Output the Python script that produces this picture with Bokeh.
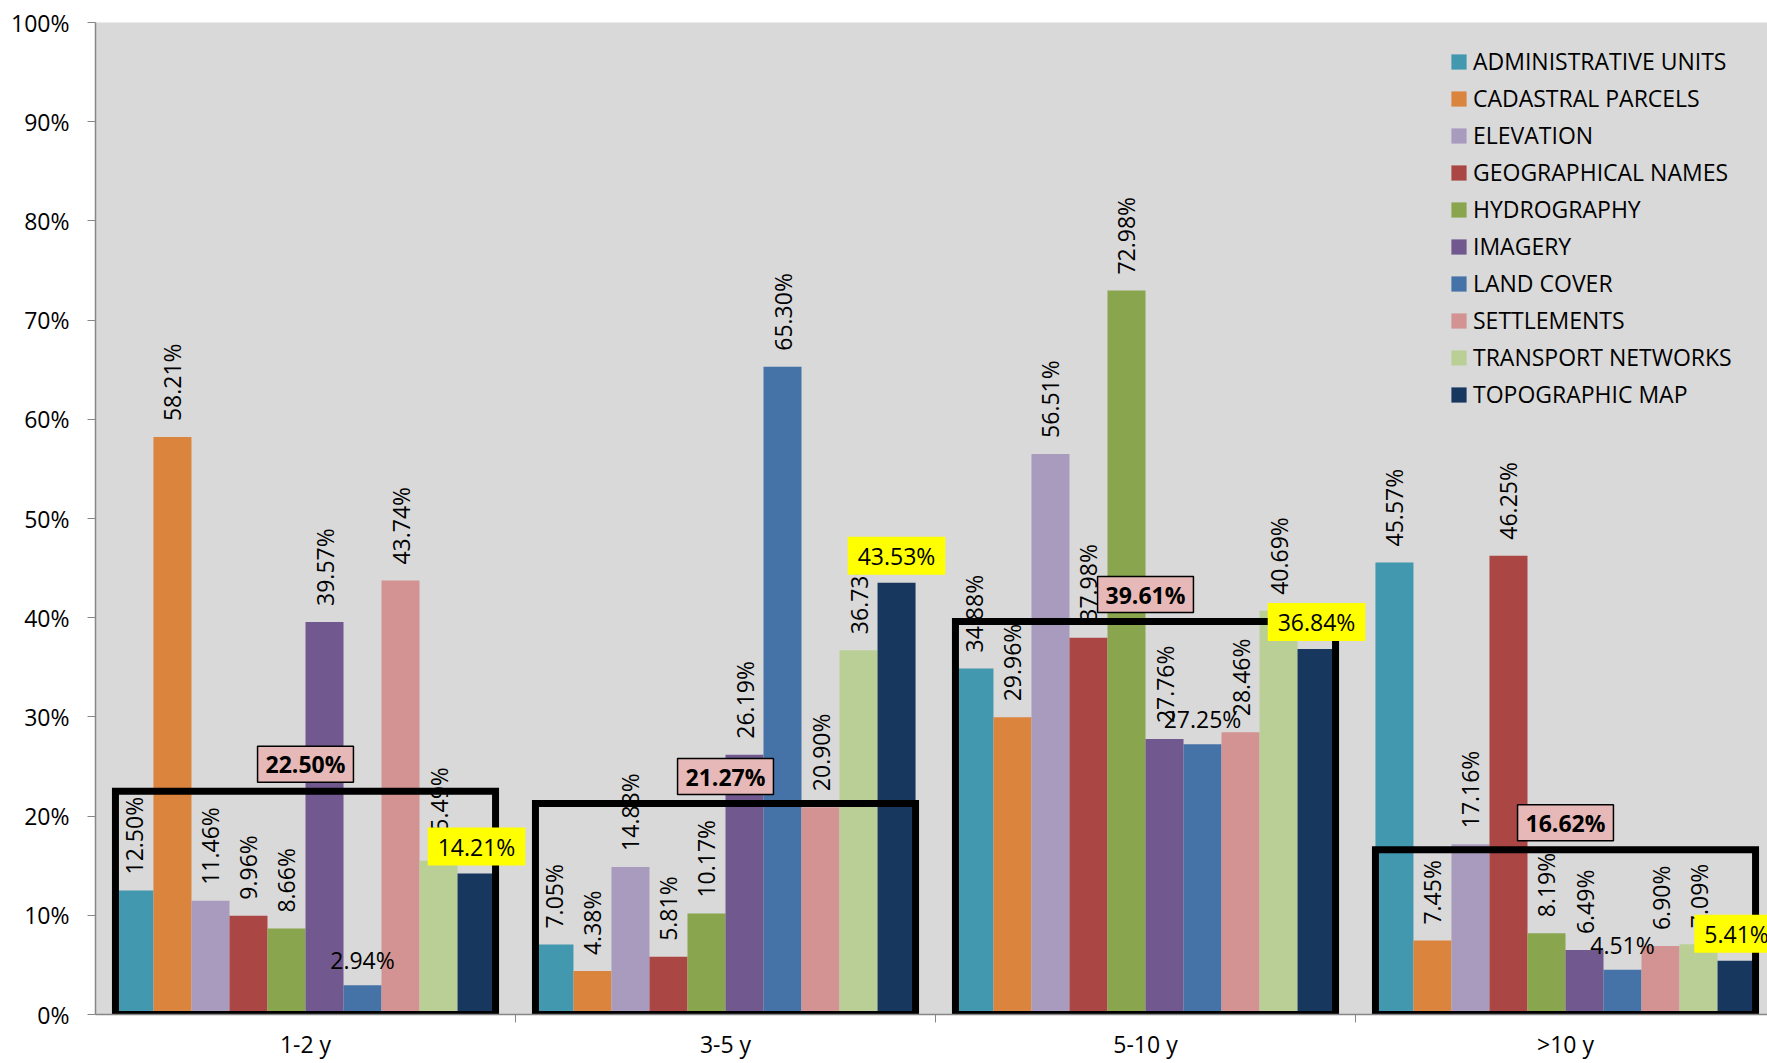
import math
from bokeh.plotting import figure
from bokeh.models import (ColumnDataSource, FixedTicker, PrintfTickFormatter, Range1d,
                          Legend, LegendItem)
from bokeh.core.properties import value
from bokeh.embed import file_html
from bokeh.resources import INLINE

# ---------------- data ----------------
categories = ["1-2 y", "3-5 y", "5-10 y", ">10 y"]
series_names = ["ADMINISTRATIVE UNITS", "CADASTRAL PARCELS", "ELEVATION",
                "GEOGRAPHICAL NAMES", "HYDROGRAPHY", "IMAGERY", "LAND COVER",
                "SETTLEMENTS", "TRANSPORT NETWORKS", "TOPOGRAPHIC MAP"]
administrative_units = [12.50, 7.05, 34.88, 45.57]
cadastral_parcels = [58.21, 4.38, 29.96, 7.45]
elevation = [11.46, 14.88, 56.51, 17.16]
geographical_names = [9.96, 5.81, 37.98, 46.25]
hydrography = [8.66, 10.17, 72.98, 8.19]
imagery = [39.57, 26.19, 27.76, 6.49]
land_cover = [2.94, 65.30, 27.25, 4.51]
settlements = [43.74, 20.90, 28.46, 6.90]
transport_networks = [15.49, 36.73, 40.69, 7.09]
topographic_map = [14.21, 43.53, 36.84, 5.41]
group_average = [22.50, 21.27, 39.61, 16.62]
y_ticks = [0, 10, 20, 30, 40, 50, 60, 70, 80, 90, 100]

series_values = [administrative_units, cadastral_parcels, elevation, geographical_names,
                 hydrography, imagery, land_cover, settlements, transport_networks,
                 topographic_map]

# ---------------- style ----------------
colors = ["#4198AF", "#DB843D", "#A99BBD", "#AA4643", "#89A54E",
          "#71588F", "#4572A7", "#D29392", "#BACF96", "#18375E"]
FONT = "Open Sans"
W, H = 1767, 1063
B_LEFT, B_TOP, B_BOTTOM = 95, 22, 49
PX_PER_CAT = 420.0
frame_w = W - B_LEFT
frame_h = H - B_TOP - B_BOTTOM
px_per_unit = frame_h / 100.0
BW = 0.0905
OFF = (1 - 10 * BW) / 2
horizontal_label_series = {6: [0, 2, 3]}   # land cover labels drawn flat in some groups
highlight_series = 9                       # topographic map labels in yellow boxes

p = figure(width=W, height=H, output_backend="svg", toolbar_location=None,
           x_range=Range1d(0, frame_w / PX_PER_CAT), y_range=Range1d(0, 100),
           min_border_left=B_LEFT, min_border_top=B_TOP, min_border_bottom=B_BOTTOM,
           min_border_right=0)
p.background_fill_color = "#D9D9D9"
p.border_fill_color = "white"
p.outline_line_color = None
p.xgrid.visible = False
p.ygrid.visible = False

# bars
items = []
for j, (name, vals) in enumerate(zip(series_names, series_values)):
    xs = [i + OFF + (j + 0.5) * BW for i in range(len(categories))]
    src = ColumnDataSource(dict(x=xs, top=vals))
    r = p.vbar(x="x", top="top", width=BW, bottom=0, source=src,
               fill_color=colors[j], line_color=None)
    items.append(LegendItem(label=name, renderers=[r]))

# data labels
rot = dict(x=[], y=[], text=[])
flat = dict(x=[], y=[], text=[])
hl = dict(x=[], y=[], text=[])
for j, vals in enumerate(series_values):
    for i, v in enumerate(vals):
        x = i + OFF + (j + 0.5) * BW
        t = f"{v:.2f}%"
        if j == highlight_series:
            hl["x"].append(x); hl["y"].append(v + 27 / px_per_unit); hl["text"].append(t)
        elif i in horizontal_label_series.get(j, []):
            flat["x"].append(x); flat["y"].append(v + 25 / px_per_unit); flat["text"].append(t)
        else:
            rot["x"].append(x); rot["y"].append(v + 16 / px_per_unit); rot["text"].append(t)

p.text(x="x", y="y", text="text", source=ColumnDataSource(rot), angle=math.pi / 2,
       text_align="left", text_baseline="middle", text_font=value(FONT),
       text_font_size="23px", text_color="black")
p.text(x="x", y="y", text="text", source=ColumnDataSource(flat),
       text_align="center", text_baseline="middle", text_font=value(FONT),
       text_font_size="23px", text_color="black")

# average boxes
p.quad(left=[i + OFF for i in range(4)], right=[i + OFF + 10 * BW for i in range(4)],
       bottom=[0] * 4, top=group_average, fill_color=None, line_color="black",
       line_width=7, line_join="miter")

p.text(x="x", y="y", text="text", source=ColumnDataSource(hl),
       text_align="center", text_baseline="middle", text_font=value(FONT),
       text_font_size="23px", text_color="black",
       background_fill_color="#FFFF00", padding=(10, 3))

avg_src = ColumnDataSource(dict(x=[i + 0.5 for i in range(4)],
                                y=[a + 27 / px_per_unit for a in group_average],
                                text=[f"{a:.2f}%" for a in group_average]))
p.text(x="x", y="y", text="text", source=avg_src, text_align="center",
       text_baseline="middle", text_font=value(FONT), text_font_size="23px",
       text_font_style="bold", text_color="black",
       background_fill_color="#E6B9B8", border_line_color="black",
       border_line_width=1.5, padding=(8, 2))

# axes
ya = p.yaxis[0]
ya.ticker = FixedTicker(ticks=y_ticks)
ya.formatter = PrintfTickFormatter(format="%d%%")
ya.axis_line_color = "#868686"
ya.axis_line_width = 1.5
ya.major_tick_line_color = "#868686"
ya.major_tick_out = 8
ya.major_tick_in = 0
ya.minor_tick_line_color = None
ya.major_label_standoff = 18
ya.major_label_text_font = FONT
ya.major_label_text_font_size = "23px"
ya.major_label_text_color = "black"

xa = p.xaxis[0]
xa.ticker = FixedTicker(ticks=[i + 0.5 for i in range(4)], minor_ticks=[1, 2, 3])
xa.major_label_overrides = {i + 0.5: c for i, c in enumerate(categories)}
xa.axis_line_color = "#868686"
xa.axis_line_width = 1.5
xa.major_tick_out = 0
xa.major_tick_in = 0
xa.major_tick_line_color = None
xa.minor_tick_out = 8
xa.minor_tick_in = 0
xa.minor_tick_line_color = "#868686"
xa.major_label_standoff = 5
xa.major_label_text_font = FONT
xa.major_label_text_font_size = "23px"
xa.major_label_text_color = "black"

legend = Legend(items=items, location="top_right", margin=23, padding=14,
                glyph_width=19, glyph_height=19, label_height=31, spacing=5,
                label_width=271, label_standoff=5,
                label_text_font=FONT, label_text_font_size="23px",
                label_text_color="black", background_fill_alpha=0,
                border_line_color=None)
p.add_layout(legend)

open("out.html", "w").write(file_html(p, INLINE))
